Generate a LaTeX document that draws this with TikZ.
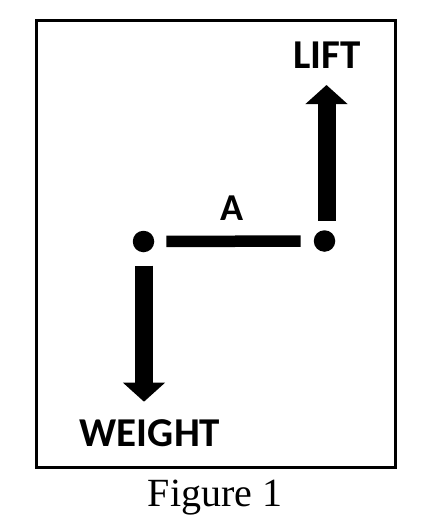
\documentclass[tikz,border=0pt]{standalone}
\usepackage{fontspec}
\setmainfont{Liberation Serif}
\newfontfamily\labelfont{Carlito}
\usetikzlibrary{arrows.meta}

\begin{document}
\begin{tikzpicture}[x=1pt, y=-1pt,
    joint/.style = {circle, fill=black, inner sep=0pt, minimum size=21.5pt},
    forcearrow/.style = {line width=18pt, -{Triangle[width=41pt, length=19pt]}},
    lbl/.style = {anchor=base, inner sep=0pt, font=\labelfont\bfseries\fontsize{41}{48}\selectfont}]
    \useasboundingbox (0,0) rectangle (421,530);
    \draw [line width=3pt] (36.7,20.7) rectangle (395,467.7);
    % the two ends of bar A
    \node [joint] (left)  at (143.5,241.5) {};
    \node [joint] (right) at (324.5,241) {};
    \coordinate (liftTip)   at (326.5,85);
    \coordinate (weightTip) at (144,401.7);
    \draw [line width=11.5pt, shorten <= 12pt, shorten >= 13pt] (left) -- (right);
    \draw [forcearrow, shorten <= 20.3pt] (right.center -| liftTip) -- (liftTip);
    \draw [forcearrow, shorten <= 24.2pt] (left.center -| weightTip) -- (weightTip);
    % labels
    \node [lbl] (lift)   at (326.7,68.3) {LIFT};
    \node [lbl, font=\labelfont\bfseries\fontsize{38}{44}\selectfont] (barA) at (232,220) {A};
    \node [lbl] (weight) at (150,446.7) {WEIGHT};
    \node [anchor=base, inner sep=0pt, font=\fontsize{40}{48}\selectfont] (caption) at (215.2,506.7) {Figure 1};
  \end{tikzpicture}
\end{document}
